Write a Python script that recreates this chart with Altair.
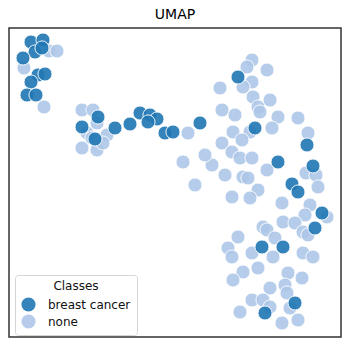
import altair as alt
import pandas as pd

# Point positions (screen-like units, y grows downward)
dark_x = [31, 43, 35, 42, 23, 38, 45, 31, 27, 36,
          82, 98, 95, 115, 130, 140, 150, 157, 148, 165, 173, 200,
          238, 255, 278, 307, 313, 292, 298, 322, 315, 262, 283, 295, 265]
dark_y = [42, 40, 52, 48, 58, 75, 74, 82, 95, 95,
          127, 117, 139, 128, 124, 113, 115, 119, 122, 133, 132, 123,
          77, 128, 162, 145, 166, 184, 192, 213, 228, 247, 247, 303, 313]

light_x = [49, 57, 24, 44,
           82, 93, 97, 87, 92, 107, 82, 97, 103, 188,
           252, 247, 267, 252, 243, 220, 253, 270, 258, 260, 222, 235, 278, 298,
           250, 272, 233, 308, 242, 222, 232, 240, 252, 212, 205, 183, 225, 243,
           248, 267, 306, 316, 318, 258, 195, 232, 250, 282, 310, 305, 327, 283,
           295, 303, 308, 263, 267, 238, 275, 228, 232, 252, 273, 303, 313, 243,
           258, 288, 302, 233, 270, 285, 287, 252, 263, 270, 290, 240, 282, 298]
light_y = [51, 51, 68, 107,
           110, 110, 123, 133, 138, 135, 148, 150, 143, 133,
           60, 67, 70, 82, 87, 88, 97, 100, 107, 112, 110, 115, 117, 118,
           132, 128, 132, 133, 140, 143, 152, 158, 158, 165, 155, 162, 175, 177,
           178, 170, 173, 175, 187, 190, 185, 197, 198, 203, 205, 215, 217, 222,
           223, 232, 235, 227, 230, 237, 238, 248, 257, 253, 257, 253, 257, 272,
           268, 273, 278, 280, 288, 285, 293, 300, 300, 307, 308, 312, 323, 320]

classes = ["breast cancer", "none"]
colors = ["#1f77b4", "#aec7e8"]

rows = []
for x, y in zip(light_x, light_y):
    rows.append({"x": x, "y": y, "Classes": "none"})
for x, y in zip(dark_x, dark_y):
    rows.append({"x": x, "y": y, "Classes": "breast cancer"})
df = pd.DataFrame(rows)

W, H = 334, 311

points = alt.Chart(df).mark_circle(
    size=200, opacity=0.9, stroke="white", strokeWidth=1
).encode(
    x=alt.X("x:Q", axis=None, scale=alt.Scale(domain=[8, 342], nice=False, zero=False)),
    y=alt.Y("y:Q", axis=None, scale=alt.Scale(domain=[27, 338], nice=False, zero=False, reverse=True)),
    color=alt.Color(
        "Classes:N",
        scale=alt.Scale(domain=classes, range=colors),
        legend=alt.Legend(
            title="Classes",
            orient="none",
            legendX=7,
            legendY=248,
            padding=6,
            fillColor="white",
            strokeColor="#d5d5d5",
            cornerRadius=3,
            titleAnchor="middle",
            titleAlign="center",
            titleFontSize=12,
            titleFontWeight="normal",
            titlePadding=4,
            labelFontSize=12,
            labelOffset=12,
            rowPadding=2,
            symbolSize=200,
            symbolOpacity=0.9,
            symbolStrokeWidth=0,
            symbolType="circle",
        ),
    ),
)

frame = alt.Chart(pd.DataFrame({"k": [0]})).mark_rect(
    fill=None, stroke="#333333", strokeWidth=1.5
).encode(
    x=alt.value(1), x2=alt.value(W - 1), y=alt.value(1), y2=alt.value(H - 1)
)

chart = alt.layer(points, frame).properties(
    width=W,
    height=H,
    title=alt.TitleParams("UMAP", fontSize=14, fontWeight="normal", anchor="middle", offset=5),
    padding={"left": 0, "top": 0, "right": 0, "bottom": 0},
).configure(
    font="DejaVu Sans",
).configure_view(
    stroke=None
).configure_legend(
    labelColor="#111111", titleColor="#111111"
)

chart.save("out.html", embed_options={"renderer": "svg", "actions": False})
